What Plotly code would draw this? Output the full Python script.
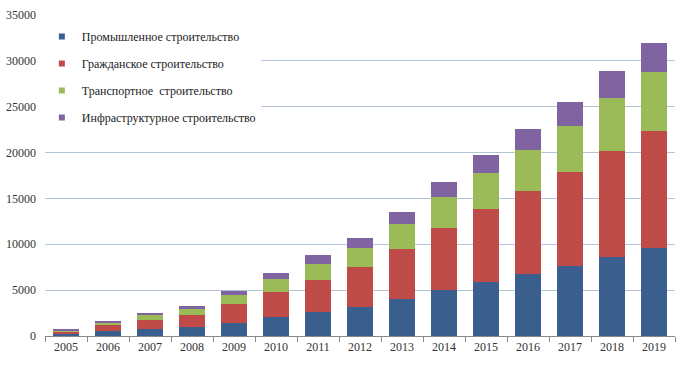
import plotly.graph_objects as go

years = ["2005", "2006", "2007", "2008", "2009", "2010", "2011", "2012",
         "2013", "2014", "2015", "2016", "2017", "2018", "2019"]
industrial = [250, 560, 765, 1020, 1420, 2110, 2620, 3165, 4000, 4985, 5860, 6730, 7600, 8620, 9570]
civil = [220, 630, 985, 1270, 2070, 2690, 3490, 4365, 5460, 6765, 7960, 9060, 10260, 11530, 12760]
transport = [110, 300, 530, 660, 990, 1420, 1750, 2040, 2730, 3380, 3930, 4470, 5020, 5780, 6440]
infra = [110, 150, 230, 325, 470, 690, 985, 1090, 1310, 1640, 1960, 2290, 2620, 2950, 3160]

names = ["Промышленное строительство", "Гражданское строительство",
         "Транспортное  строительство", "Инфраструктурное строительство"]
colors = ["#3A5F8F", "#BE4B48", "#9BBB59", "#8064A2"]
series = [industrial, civil, transport, infra]

FONT = "Liberation Serif"

fig = go.Figure()
for name, vals, col in zip(names, series, colors):
    fig.add_trace(go.Bar(x=years, y=vals, name=name, marker_color=col,
                         marker_line_width=0, showlegend=False))
for i, (name, col) in enumerate(zip(names, colors)):
    fig.add_trace(go.Scatter(x=[None], y=[None], mode="markers", name=name,
                             legendgroup=f"g{i}",
                             marker=dict(symbol="square", size=6, color=col)))

fig.update_layout(
    width=688, height=369,
    margin=dict(l=45, r=13, t=15, b=33, autoexpand=False),
    paper_bgcolor="white", plot_bgcolor="white",
    barmode="stack", bargap=0.4,
    font=dict(family=FONT, size=12, color="#333333"),
    legend=dict(x=-0.005, y=0.978, xanchor="left", yanchor="top",
                bgcolor="white", borderwidth=0,
                traceorder="grouped", tracegroupgap=8,
                font=dict(family=FONT, size=12, color="#222222")),
    xaxis=dict(type="category", showline=True, linecolor="#888888", linewidth=1,
               ticks="outside", tickson="boundaries", ticklen=5, tickcolor="#888888",
               showgrid=False, tickfont=dict(size=12), automargin=False),
    yaxis=dict(range=[0, 35000], dtick=5000, tickformat="d", showline=False,
               showgrid=True, gridcolor="#B4C3D8", gridwidth=1, zeroline=False,
               ticks="", ticklabelstandoff=8, tickfont=dict(size=12), automargin=False),
)

fig.write_html("out.html", config={"displayModeBar": False},
               post_script="document.body.style.margin='0';document.body.style.padding='0';")
